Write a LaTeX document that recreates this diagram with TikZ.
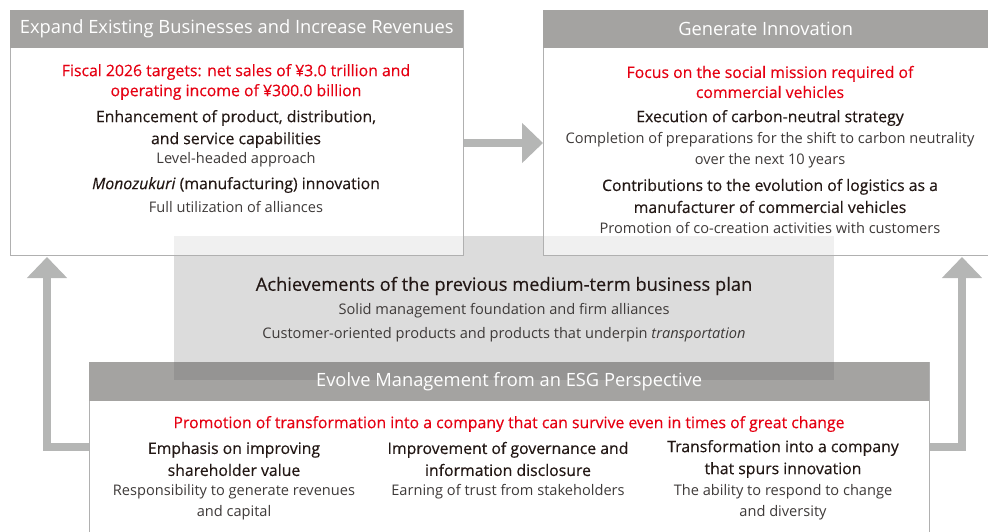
\documentclass[tikz,border=0pt]{standalone}
\usepackage{fontspec}
\setmainfont{Open Sans}
\newfontfamily\medfont{Open Sans}[FakeBold=0.35]
\usetikzlibrary{arrows.meta,positioning}

\definecolor{hdrgray}{HTML}{A4A3A1}
\definecolor{arrgray}{HTML}{B5B6B5}
\definecolor{keyred}{HTML}{E60012}
\definecolor{boxline}{HTML}{B0B0B0}
\definecolor{maintext}{HTML}{231815}
\definecolor{subtext}{HTML}{3E3A39}

\begin{document}
\begin{tikzpicture}[x=1pt,y=-1pt]
	\tikzset{
		panel/.style={draw=boxline, line width=0.9pt, fill=white, anchor=north west, inner sep=0pt},
		headbar/.style={fill=hdrgray, anchor=north west, inner sep=0pt},
		headtext/.style={text=white, font=\fontsize{18.3}{20}\selectfont},
		keyline/.style={text=keyred, align=center, font=\medfont\fontsize{15.8}{20}\selectfont},
		item/.style={text=maintext, align=center, font=\medfont\fontsize{15.8}{22}\selectfont},
		subitem/.style={text=subtext, align=center, font=\fontsize{14.6}{20.5}\selectfont},
		flow/.style={draw=arrgray, line width=8pt, -{Triangle[width=39pt,length=21pt]}}
	}
	\useasboundingbox (0,0) rectangle (988,532);
	\clip (0,0) rectangle (988,532);
	% bottom panel
	\node [panel, minimum width=840pt, minimum height=180pt] (esg) at (89,362) {};
	\node [headbar, minimum width=840pt, minimum height=39pt] (esghead) at (89,362) {};
	% achievements, see-through
	\node [fill=black!60, fill opacity=0.23, anchor=north west, inner sep=0pt,
		minimum width=660pt, minimum height=144pt] (achieve) at (174,236) {};
	% top panels
	\node [panel, fill opacity=0.57, minimum width=453pt, minimum height=245pt] (expand) at (10,10) {};
	\node [headbar, minimum width=453pt, minimum height=38pt] (expandhead) at (10,10) {};
	\node [panel, fill opacity=0.57, minimum width=445pt, minimum height=245pt] (innov) at (543,10) {};
	\node [headbar, minimum width=445pt, minimum height=38pt] (innovhead) at (543,10) {};

	\node [headtext] (expandtitle) at (expandhead.center) {Expand Existing Businesses and Increase Revenues};
	\node [headtext] (innovtitle) at (innovhead.center) {Generate Innovation};
	\node [headtext] (esgtitle) at (esghead.center) {Evolve Management from an ESG Perspective};

	% left panel text
	\node [keyline] (exptarget) at (236,82) {Fiscal 2026 targets: net sales of ¥3.0 trillion and\\operating income of ¥300.0 billion};
	\node [item] (expcap) at (236,129) {Enhancement of product, distribution,\\and service capabilities};
	\node [subitem] (explevel) at (236,160) {Level-headed approach};
	\node [item] (expmono) at (236,185) {\textit{Monozukuri} (manufacturing) innovation};
	\node [subitem] (expalli) at (236,207) {Full utilization of alliances};

	% right panel text
	\node [keyline] (innfocus) at (770,82) {Focus on the social mission required of\\commercial vehicles};
	\node [item] (inncarbon) at (770,118) {Execution of carbon-neutral strategy};
	\node [subitem] (innprep) at (770,150) {Completion of preparations for the shift to carbon neutrality\\over the next 10 years};
	\node [item] (innlogi) at (770,196) {Contributions to the evolution of logistics as a\\manufacturer of commercial vehicles};
	\node [subitem] (inncocr) at (770,228) {Promotion of co-creation activities with customers};

	% middle text
	\node [text=maintext, font=\medfont\fontsize{18.3}{20}\selectfont] (achtitle) at (504,286) {Achievements of the previous medium-term business plan};
	\node [subitem, font=\fontsize{14.6}{24}\selectfont] (achsub) at (504,323) {Solid management foundation and firm alliances\\Customer-oriented products and products that underpin \textit{transportation}};

	% bottom panel text
	\node [keyline] (esgmain) at (509,424) {Promotion of transformation into a company that can survive even in times of great change};
	\node [item] (esgshare) at (234,459) {Emphasis on improving\\shareholder value};
	\node [subitem] (esgrev) at (234,502) {Responsibility to generate revenues\\and capital};
	\node [item] (esggov) at (508,459) {Improvement of governance and\\information disclosure};
	\node [subitem] (esgtrust) at (508,492) {Earning of trust from stakeholders};
	\node [item] (esginno) at (783,459) {Transformation into a company\\that spurs innovation};
	\node [subitem] (esgchange) at (783,502) {The ability to respond to change\\and diversity};

	% arrows
	\coordinate (ltip) at (47,257);
	\coordinate (rtip) at (962,257);
	\draw [flow] (expand.east |- 0,143) -- (innov.west |- 0,143);
	\draw [flow] (esg.west |- 0,447) -| (ltip);
	\draw [flow] (esg.east |- 0,447) -| (rtip);
\end{tikzpicture}
\end{document}
